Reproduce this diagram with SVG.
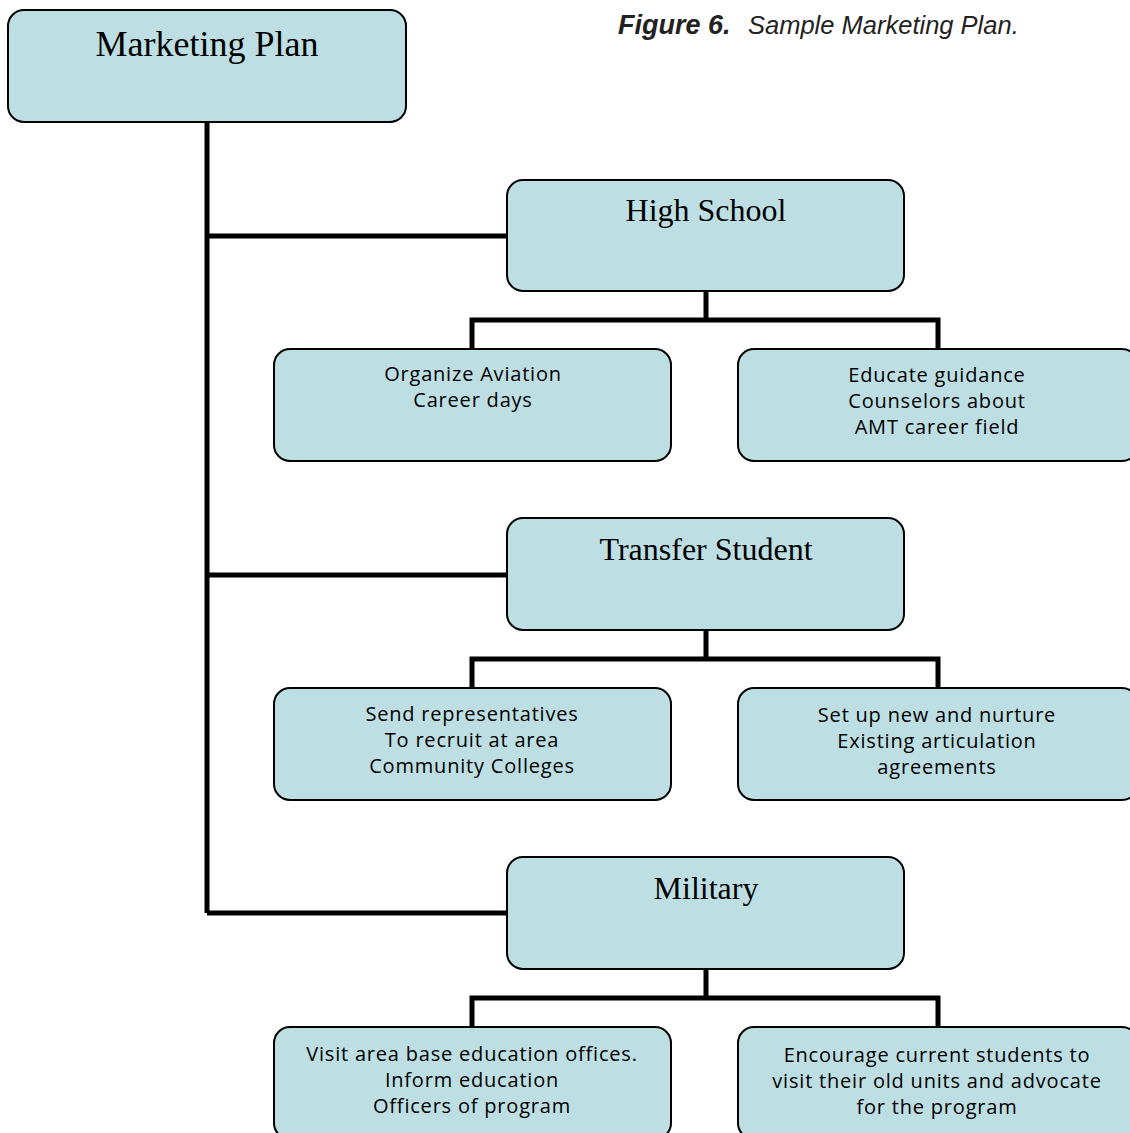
<svg xmlns="http://www.w3.org/2000/svg" width="1130" height="1133" viewBox="0 0 1130 1133">
<style>
.box{fill:#bddfe3;stroke:#000;stroke-width:2}
.h{font-family:"Liberation Serif",serif;font-size:32px;text-anchor:middle;fill:#000}
.t{font-family:"Open Sans","DejaVu Sans",sans-serif;font-size:20px;text-anchor:middle;fill:#000;letter-spacing:0.8px}
.c{fill:none;stroke:#000;stroke-width:5}
.cap{font-family:"Liberation Sans",Arial,sans-serif;font-size:25.5px;font-style:italic;fill:#222}
</style>
<rect width="1130" height="1133" fill="#fff"/>
<text class="cap" y="34"><tspan x="618" style="font-weight:bold;font-size:27px">Figure 6.</tspan><tspan x="748">Sample Marketing Plan.</tspan></text>
<g id="connectors">
<path class="c" d="M207 122V913M207 236H507M207 575H507M207 913H507"/>
<path class="c" d="M706 291V320M472 349V320H938V349"/>
<path class="c" d="M706 630V659M472 688V659H938V688"/>
<path class="c" d="M706 969V998M472 1027V998H938V1027"/>
</g>
<g id="marketing-plan"><rect class="box" x="8" y="10" width="398" height="112" rx="16"/><text class="h" x="207" y="56" style="font-size:36px">Marketing Plan</text></g>
<g id="high-school"><rect class="box" x="507" y="180" width="397" height="111" rx="16"/><text class="h" x="706" y="221">High School</text></g>
<g id="hs-1"><rect class="box" x="274" y="349" width="397" height="112" rx="16"/><text class="t" x="473" y="381">Organize Aviation</text><text class="t" x="473" y="407">Career days</text></g>
<g id="hs-2"><rect class="box" x="738" y="349" width="400" height="112" rx="16"/><text class="t" x="937" y="382">Educate guidance</text><text class="t" x="937" y="408">Counselors about</text><text class="t" x="937" y="434">AMT career field</text></g>
<g id="transfer-student"><rect class="box" x="507" y="518" width="397" height="112" rx="16"/><text class="h" x="706" y="560">Transfer Student</text></g>
<g id="ts-1"><rect class="box" x="274" y="688" width="397" height="112" rx="16"/><text class="t" x="472" y="721">Send representatives</text><text class="t" x="472" y="747">To recruit at area</text><text class="t" x="472" y="773">Community Colleges</text></g>
<g id="ts-2"><rect class="box" x="738" y="688" width="400" height="112" rx="16"/><text class="t" x="937" y="722">Set up new and nurture</text><text class="t" x="937" y="748">Existing articulation</text><text class="t" x="937" y="774">agreements</text></g>
<g id="military"><rect class="box" x="507" y="857" width="397" height="112" rx="16"/><text class="h" x="706" y="899">Military</text></g>
<g id="mil-1"><rect class="box" x="274" y="1027" width="397" height="112" rx="16"/><text class="t" x="472" y="1061">Visit area base education offices.</text><text class="t" x="472" y="1087">Inform education</text><text class="t" x="472" y="1113">Officers of program</text></g>
<g id="mil-2"><rect class="box" x="738" y="1027" width="400" height="112" rx="16"/><text class="t" x="937" y="1062">Encourage current students to</text><text class="t" x="937" y="1088">visit their old units and advocate</text><text class="t" x="937" y="1114">for the program</text></g>
</svg>
